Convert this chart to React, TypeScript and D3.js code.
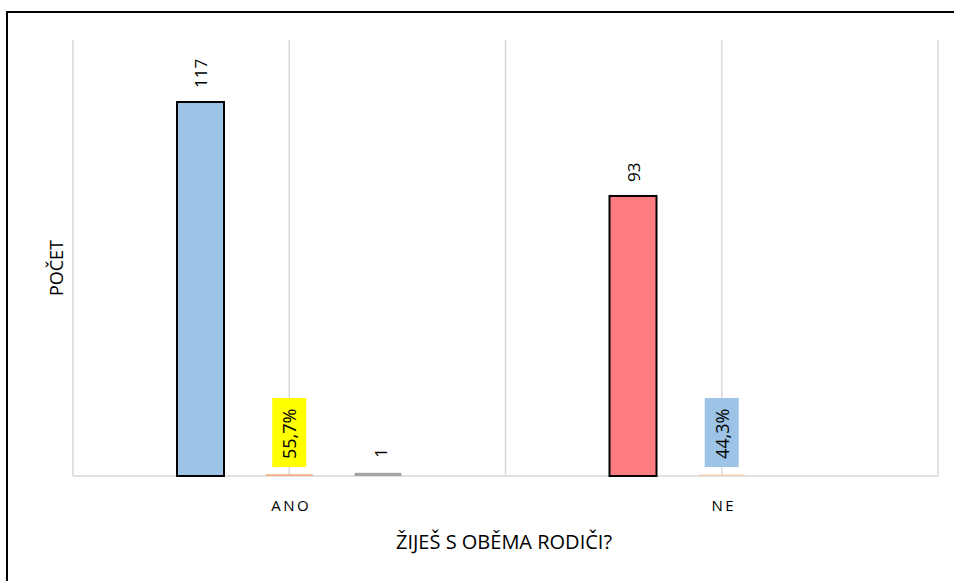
import React from "react";
import * as d3 from "d3";

const categories = ["ANO", "NE"];
const seriesNames = ["Počet", "Podíl", "Jiné"];
const countValues = [117, 93];
const shareValues = [0.557, 0.443];
const otherValues = [1, 0];
const countLabels = ["117", "93"];
const shareLabels = ["55,7%", "44,3%"];
const otherLabels = ["1", ""];

const countColors = ["#9DC3E6", "#FF7C80"];
const shareBarColors = ["#F4B183", "#F8CBAD"];
const shareLabelBg = ["#FFFF00", "#9DC3E6"];
const otherColor = "#A5A5A5";

const W = 954;
const H = 581;
const plot = { left: 73, right: 938, top: 40, bottom: 476 };
const FONT = "'Open Sans', 'Liberation Sans', sans-serif";

export default function App() {
  const x = d3.scaleBand<string>().domain(categories).range([plot.left, plot.right]).padding(0);
  const xs = d3.scalePoint<string>().domain(seriesNames).range([127.5, 305]);
  // primary axis for ANO-side counts, secondary for NE (as in source chart)
  const yPrimary = d3.scaleLinear().domain([0, 136.4]).range([plot.bottom, plot.top]);
  const ySecondary = d3.scaleLinear().domain([0, 144.8]).range([plot.bottom, plot.top]);
  const yFor = (i: number) => (i === 0 ? yPrimary : ySecondary);
  const barW = 47;

  const gridXs = [
    plot.left,
    ...categories.map((c) => (x(c) as number) + x.bandwidth() / 2),
    ...categories.map((c) => (x(c) as number) + x.bandwidth()),
  ];

  return (
    <svg width={W} height={H} style={{ position: "absolute", left: 0, top: 0, background: "#fff" }}>
      <rect x={0} y={0} width={W} height={H} fill="#fff" />
      <line x1={7} y1={12} x2={W + 5} y2={12} stroke="#000" strokeWidth={2} />
      <line x1={7} y1={11} x2={7} y2={H + 5} stroke="#000" strokeWidth={2} />

      {gridXs.map((gx, i) => (
        <line key={i} x1={gx} x2={gx} y1={plot.top} y2={plot.bottom} stroke="#D9D9D9" strokeWidth={1.5} />
      ))}
      <line x1={plot.left} x2={plot.right} y1={plot.bottom} y2={plot.bottom} stroke="#D9D9D9" strokeWidth={1.5} />

      {categories.map((c, i) => {
        const gx = x(c) as number;
        const y = yFor(i);
        const cx0 = gx + (xs(seriesNames[0]) as number);
        const cx1 = gx + (xs(seriesNames[1]) as number);
        const cx2 = gx + (xs(seriesNames[2]) as number);
        const top0 = y(countValues[i]);
        const top1 = Math.min(y(shareValues[i]), plot.bottom - 1);
        const top2 = y(otherValues[i]);
        return (
          <g key={c}>
            <rect x={cx0 - barW / 2} y={top0} width={barW} height={plot.bottom - top0} fill={countColors[i]} stroke="#000" strokeWidth={2} />
            <text
              transform={`translate(${cx0},${top0 - 14}) rotate(-90)`}
              fontFamily={FONT}
              fontSize={17}
              dominantBaseline="central"
              textAnchor="start"
              fill="#000"
            >
              {countLabels[i]}
            </text>

            <rect x={cx1 - barW / 2} y={top1} width={barW} height={plot.bottom - top1} fill={shareBarColors[i]} />
            <rect x={cx1 - 17} y={398} width={34} height={69} fill={shareLabelBg[i]} />
            <text
              transform={`translate(${cx1},${459}) rotate(-90)`}
              fontFamily={FONT}
              fontSize={18}
              dominantBaseline="central"
              textAnchor="start"
              fill="#000"
            >
              {shareLabels[i]}
            </text>

            {otherValues[i] > 0 && (
              <g>
                <rect x={cx2 - barW / 2} y={top2} width={barW} height={plot.bottom - top2} fill={otherColor} />
                <text
                  transform={`translate(${cx2 + 2},${top2 - 15}) rotate(-90)`}
                  fontFamily={FONT}
                  fontSize={17}
                  dominantBaseline="central"
                  textAnchor="start"
                  fill="#000"
                >
                  {otherLabels[i]}
                </text>
              </g>
            )}

            <text
              x={gx + x.bandwidth() / 2 + 2}
              y={511}
              fontFamily={FONT}
              fontSize={15}
              letterSpacing={2.5}
              textAnchor="middle"
              fill="#000"
            >
              {c}
            </text>
          </g>
        );
      })}

      <text x={504} y={549} fontFamily={FONT} fontSize={20} textAnchor="middle" fill="#000">
        ŽIJEŠ S OBĚMA RODIČI?
      </text>
      <text
        transform={`translate(${63},${268}) rotate(-90)`}
        fontFamily={FONT}
        fontSize={18}
        textAnchor="middle"
        fill="#000"
      >
        POČET
      </text>
    </svg>
  );
}
